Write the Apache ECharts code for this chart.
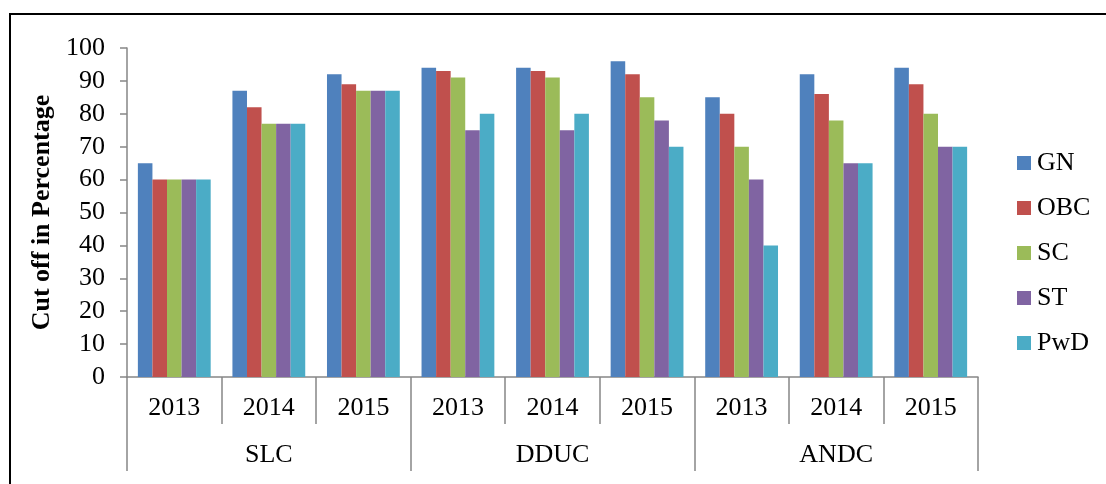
<!DOCTYPE html>
<html>
<head>
<meta charset="utf-8">
<script src="https://cdn.jsdelivr.net/npm/echarts@6/dist/echarts.min.js"></script>
<style>html,body{margin:0;padding:0;background:#fff;}#c{width:1106px;height:484px;}</style>
</head>
<body>
<div id="c"></div>
<script>
const years = ['2013','2014','2015','2013','2014','2015','2013','2014','2015'];
const colleges = ['SLC','DDUC','ANDC'];
const seriesNames = ['GN','OBC','SC','ST','PwD'];
const GN  = [65, 87, 92, 94, 94, 96, 85, 92, 94];
const OBC = [60, 82, 89, 93, 93, 92, 80, 86, 89];
const SC  = [60, 77, 87, 91, 91, 85, 70, 78, 80];
const ST  = [60, 77, 87, 75, 75, 78, 60, 65, 70];
const PwD = [60, 77, 87, 80, 80, 70, 40, 65, 70];
const yTicks = [0,10,20,30,40,50,60,70,80,90,100];
const colors = ['#4F81BD','#C0504D','#9BBB59','#8064A2','#4BACC6'];
const values = [GN, OBC, SC, ST, PwD];
const font = "'Liberation Serif', 'Times New Roman', serif";
const fs = 26;

const chart = echarts.init(document.getElementById('c'), null, {renderer:'canvas'});
chart.setOption({
  animation:false,
  color: colors,
  textStyle:{fontFamily:font},
  grid:{left:127, top:48, right:128, bottom:107},
  legend:{
    orient:'vertical', left:1017, top:150, padding:0, itemWidth:14, itemHeight:14, itemGap:19,
    icon:'rect',
    textStyle:{fontFamily:font, fontSize:fs, lineHeight:26, color:'#000', padding:[0,0,0,1]},
    data: seriesNames
  },
  xAxis:[
    {type:'category', data:years, position:'bottom',
     axisLine:{show:true, lineStyle:{color:'#868686', width:1.5}},
     axisTick:{show:true, interval:0, length:47, lineStyle:{color:'#868686', width:1.5}},
     axisLabel:{interval:0, fontFamily:font, fontSize:fs, color:'#000', margin:18}},
    {type:'category', data:colleges, position:'bottom', offset:47,
     axisLine:{show:false},
     axisTick:{show:true, interval:0, length:47, lineStyle:{color:'#868686', width:1.5}},
     axisLabel:{interval:0, fontFamily:font, fontSize:fs, color:'#000', margin:18}}
  ],
  yAxis:{type:'value', min:0, max:100, interval:10,
    name:'Cut off in Percentage', nameLocation:'middle', nameGap:68,
    nameTextStyle:{fontFamily:font, fontSize:fs, fontWeight:'bold', color:'#000'},
    axisLine:{show:true, lineStyle:{color:'#868686', width:1.5}},
    axisTick:{show:true, length:7, lineStyle:{color:'#868686', width:1.5}},
    splitLine:{show:false},
    axisLabel:{fontFamily:font, fontSize:fs, color:'#000', margin:22,
      formatter:v=> yTicks.includes(v) ? String(v) : ''}
  },
  series: seriesNames.map((n,i)=>({
    name:n, type:'bar', xAxisIndex:0, data:values[i],
    barGap:'0%', barCategoryGap:'23%',
    itemStyle:{color:colors[i]}
  })),
  graphic:[{type:'rect', shape:{x:10, y:14, width:1200, height:600},
    style:{fill:'none', stroke:'#000', lineWidth:2}, silent:true, z:100}]
});
</script>
</body>
</html>
